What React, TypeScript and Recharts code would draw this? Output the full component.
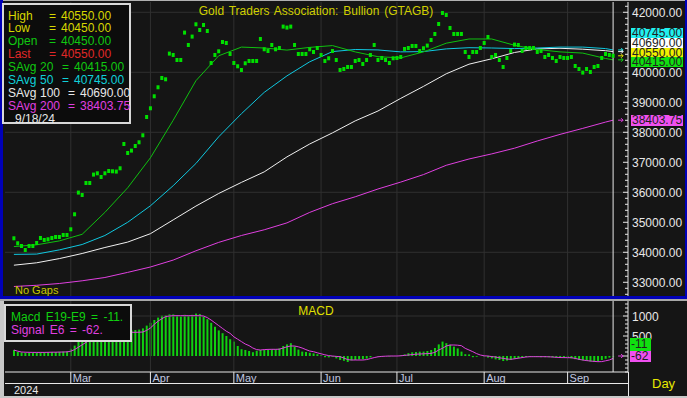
import React from 'react';
import { ComposedChart, Line, Bar, XAxis, YAxis, ReferenceLine, ReferenceDot } from 'recharts';

const FONT = '"Liberation Sans", Arial, sans-serif';

// daily closes, 2/9/24 .. 9/18/24 (weekdays)
const closes = [
  34467, 34300, 34210, 34077, 34210, 34210, 34310, 34477, 34410, 34433,
  34477, 34510, 34510, 34577, 34577, 34767, 35267, 35990, 35910, 36310,
  36310, 36590, 36633, 36510, 36633, 36710, 36700, 36690, 36800, 37610,
  37310, 37390, 37543, 37667, 37900, 38510, 38800, 39200, 39500, 39810,
  39767, 40623, 40577, 40410, 40410, 41323, 40910, 41190, 41600, 41410,
  41577, 41377, 40310, 40577, 40700, 41010, 40977, 40610, 40310, 40200,
  40077, 40300, 40377, 40377, 40377, 41110, 40767, 40710, 40910, 40767,
  40810, 41523, 41490, 41523, 40910, 40610, 40610, 40610, 40767, 40677,
  40810, 40577, 40377, 40467, 40710, 40410, 40077, 40110, 40177, 40177,
  40377, 40410, 40277, 40410, 40577, 40910, 40410, 40477, 40410, 40310,
  40467, 40477, 40510, 40777, 40810, 40877, 40877, 40710, 40800, 40890,
  41077, 41277, 41610, 41977, 41910, 41477, 41277, 41277, 41277, 40677,
  40510, 40677, 40677, 40810, 40977, 41177, 40510, 40577, 40410, 40177,
  40477, 40710, 40923, 40910, 40710, 40810, 40810, 40810, 40677, 40710,
  40510, 40577, 40477, 40377, 40510, 40477, 40477, 40510, 40210, 40110,
  39990, 40110, 40010, 40177, 40210, 40477, 40610, 40577, 40550,
];

// moving averages read at these day indices
const maKnots = [0, 6, 12, 18, 24, 30, 36, 42, 48, 54, 60, 66, 72, 78, 84, 90, 96, 102, 108, 114, 120, 126, 132, 138, 144, 150, 156, 158];
const sAvg20 = [34190, 34250, 34380, 34600, 35330, 36150, 37150, 38400, 39720, 40550, 40840, 40810, 40740, 40830, 40890, 40680, 40520, 40480, 40680, 40970, 41110, 41110, 40900, 40760, 40680, 40640, 40460, 40415];
const sAvg50 = [33930, 33940, 34080, 34260, 34560, 35000, 35550, 36220, 36960, 37850, 38620, 39330, 39880, 40350, 40690, 40760, 40745, 40680, 40690, 40780, 40820, 40810, 40790, 40810, 40840, 40840, 40790, 40745];
const sAvg100 = [33570, 33650, 33790, 33960, 34160, 34340, 34620, 35080, 35540, 35960, 36330, 36680, 37180, 37610, 37980, 38380, 38710, 39130, 39530, 39950, 40270, 40450, 40660, 40780, 40800, 40770, 40720, 40690];
const sAvg200 = [32860, 32900, 32960, 33050, 33160, 33330, 33510, 33740, 34050, 34330, 34560, 34750, 34980, 35330, 35620, 35850, 36110, 36340, 36590, 36900, 37110, 37280, 37470, 37710, 37930, 38130, 38340, 38403.75];

const macdE19E9 = [
  150, 100, 90, 80, 80, 80, 85, 95, 95, 95,
  100, 100, 105, 110, 115, 180, 260, 380, 450, 520,
  560, 600, 620, 620, 620, 620, 610, 600, 590, 640,
  640, 640, 650, 660, 690, 760, 830, 900, 960, 1010,
  1020, 1040, 1040, 1020, 990, 1030, 1020, 1030, 1060, 1050,
  990, 920, 830, 730, 640, 570, 500, 420, 360, 250,
  170, 150, 125, 95, 130, 150, 150, 150, 165, 170,
  190, 250, 290, 320, 240, 160, 110, 100, 80, 65,
  45, 25, -30, -35, -20, -60, -100, -120, -150, -110,
  -100, -85, -80, -65, -35, 0, -10, -15, -5, -15,
  -5, 0, 20, 40, 70, 92, 100, 108, 110, 125,
  150, 200, 290, 360, 320, 280, 235, 190, 110, 45,
  40, -30, -20, 0, -15, -40, -60, -85, -100, -125,
  -115, -100, -75, -60, -40, -25, -25, -20, -25, -30,
  -30, -30, -35, -40, -40, -45, -50, -60, -80, -100,
  -110, -125, -140, -145, -130, -100, -70, -40, -11,
];
const signalE6 = [
  150, 120, 100, 95, 92, 90, 90, 90, 90, 92,
  95, 95, 98, 100, 103, 120, 160, 220, 280, 340,
  390, 440, 480, 520, 550, 570, 580, 585, 588, 592,
  592, 592, 592, 595, 600, 640, 700, 790, 870, 930,
  985, 1000, 1008, 1008, 1008, 1008, 1008, 1008, 1008, 1008,
  1000, 960, 900, 830, 760, 690, 620, 567, 480, 420,
  360, 300, 260, 200, 160, 150, 160, 165, 167, 167,
  170, 200, 230, 250, 250, 230, 200, 160, 125, 108,
  80, 55, 30, 10, 0, -10, -17, -50, -90, -100,
  -100, -100, -100, -90, -65, -40, -20, -10, -5, 0,
  0, 0, 5, 15, 25, 35, 45, 50, 55, 60,
  65, 92, 150, 192, 250, 275, 275, 270, 258, 192,
  150, 108, 60, 25, 5, 0, -15, -25, -45, -58,
  -75, -83, -70, -55, -40, -25, -17, -17, -17, -17,
  -17, -20, -25, -33, -38, -40, -42, -42, -60, -83,
  -100, -115, -125, -135, -142, -140, -120, -100, -62,
];

const monthStarts = [15, 36, 58, 81, 101, 124, 146];
const monthNames = ['Mar', 'Apr', 'May', 'Jun', 'Jul', 'Aug', 'Sep'];
const priceGrid = [34000, 36000, 38000, 40000, 42000];
// 41000 sits under the last-value tags, so it is not labelled
const priceLabels = [33000, 34000, 35000, 36000, 37000, 38000, 39000, 40000, 42000];
const macdGrid = [1000];
const macdLabels = [500, 1000];

const readout = [
  { name: 'High', value: '40550.00', color: '#d8d800' },
  { name: 'Low', value: '40450.00', color: '#d8d800' },
  { name: 'Open', value: '40450.00', color: '#10c810' },
  { name: 'Last', value: '40550.00', color: '#e02828' },
  { name: 'SAvg', period: '20', value: '40415.00', color: '#10c810' },
  { name: 'SAvg', period: '50', value: '40745.00', color: '#10d0d8' },
  { name: 'SAvg', period: '100', value: '40690.00', color: '#e8e8e8' },
  { name: 'SAvg', period: '200', value: '38403.75', color: '#e040e0' },
];
const lastDate = '9/18/24';
const lastMacd = -11;
const lastSignal = -62;

const priceTicks = Array.from({ length: 49 }, (_, k) => 32600 + k * 200);
const macdTicks = Array.from({ length: 18 }, (_, k) => -400 + k * 100);

const rows = closes.map((close, i) => {
  const k = maKnots.indexOf(i);
  return {
    i,
    close,
    s20: k >= 0 ? sAvg20[k] : null,
    s50: k >= 0 ? sAvg50[k] : null,
    s100: k >= 0 ? sAvg100[k] : null,
    s200: k >= 0 ? sAvg200[k] : null,
    macd: macdE19E9[i],
    signal: signalE6[i],
  };
});

const lastIdx = closes.length - 1;

const Square = (p: any) => {
  if (p.cy == null) return <g key={p.index} />;
  return <rect key={p.index} x={p.cx - 1.5} y={p.cy - 2} width={3} height={4} fill="#00e000" />;
};

const Arrow = (color: string) => (p: any) => (
  <path
    d={`M${p.cx + 5},${p.cy} H${p.cx + 10} M${p.cx + 8},${p.cy - 2} L${p.cx + 10},${p.cy} L${p.cx + 8},${p.cy + 2}`}
    stroke={color}
    fill="none"
  />
);

const PriceTick = (p: any) => {
  const v = p.payload.value;
  const major = v % 1000 === 0;
  return (
    <g>
      <line x1={p.x - (major ? 5 : 3)} x2={p.x} y1={p.y} y2={p.y} stroke="#e8e8e8" />
      {priceLabels.includes(v) && (
        <text x={p.x + 4} y={p.y + 4.5} fill="#e8e8e8" fontSize={12} fontFamily={FONT}>
          {v}.00
        </text>
      )}
    </g>
  );
};

const MacdTick = (p: any) => {
  const v = p.payload.value;
  const major = v % 500 === 0;
  return (
    <g>
      <line x1={p.x - (major ? 5 : 3)} x2={p.x} y1={p.y} y2={p.y} stroke="#e8e8e8" />
      {macdLabels.includes(v) && (
        <text x={p.x + 4} y={p.y + 4.5} fill="#e8e8e8" fontSize={12} fontFamily={FONT}>
          {v}
        </text>
      )}
    </g>
  );
};

const MonthTick = (p: any) => {
  const k = monthStarts.indexOf(p.payload.value);
  return (
    <g>
      <line x1={p.x} x2={p.x} y1={p.y} y2={p.y + 11} stroke="#e8e8e8" />
      <text x={p.x + 2} y={p.y + 10} fill="#c0c8e0" fontSize={11} fontFamily={FONT}>
        {monthNames[k]}
      </text>
    </g>
  );
};

const abs = (s: React.CSSProperties): React.CSSProperties => ({ position: 'absolute', ...s });

const App = () => {
  const pad = { left: 7, right: 13 };
  return (
    <div style={{ position: 'relative', width: 687, height: 398, background: '#151515', overflow: 'hidden', fontFamily: FONT }}>
      <style>{'body{margin:0}'}</style>

      <div style={abs({ left: 0, top: 0 })}>
        <ComposedChart width={687} height={296} data={rows} margin={{ top: 2, right: 0, bottom: 0, left: 5 }}>
          <XAxis dataKey="i" type="category" scale="band" hide padding={pad} />
          <YAxis
            orientation="right"
            width={59}
            type="number"
            domain={[32543, 42343]}
            allowDataOverflow
            ticks={priceTicks}
            interval={0}
            tickSize={0}
            tickMargin={0}
            tickLine={false}
            tick={<PriceTick />}
            axisLine={{ stroke: '#e8e8e8' }}
          />
          {priceGrid.map((v) => (
            <ReferenceLine key={'h' + v} y={v} stroke="#303030" />
          ))}
          {monthStarts.map((m) => (
            <ReferenceLine key={'v' + m} x={m} stroke="#303030" />
          ))}
          <Line dataKey="s200" stroke="#e040e0" dot={false} connectNulls isAnimationActive={false} />
          <Line dataKey="s100" stroke="#f0f0f0" dot={false} connectNulls isAnimationActive={false} />
          <Line dataKey="s50" stroke="#10c8e0" dot={false} connectNulls isAnimationActive={false} />
          <Line dataKey="s20" stroke="#10c010" dot={false} connectNulls isAnimationActive={false} />
          <Line dataKey="close" stroke="none" dot={Square} activeDot={false} isAnimationActive={false} />
          <ReferenceLine x={lastIdx} stroke="#e8e8e8" />
          <ReferenceDot x={lastIdx} y={40745} shape={Arrow('#10e0e0')} />
          <ReferenceDot x={lastIdx} y={40690} shape={Arrow('#f0f0f0')} />
          <ReferenceDot x={lastIdx} y={40550} shape={Arrow('#e0e000')} />
          <ReferenceDot x={lastIdx} y={40415} shape={Arrow('#10d010')} />
          <ReferenceDot x={lastIdx} y={38403.75} shape={Arrow('#e040e0')} />
        </ComposedChart>
      </div>

      <div style={abs({ left: 0, top: 300 })}>
        <ComposedChart width={687} height={83} data={rows} margin={{ top: 1, right: 0, bottom: 0, left: 5 }}>
          <XAxis
            dataKey="i"
            type="category"
            scale="band"
            padding={pad}
            height={11}
            ticks={monthStarts}
            interval={0}
            tickSize={0}
            tickMargin={0}
            tickLine={false}
            tick={<MonthTick />}
            axisLine={{ stroke: '#e8e8e8' }}
          />
          <YAxis
            orientation="right"
            width={59}
            type="number"
            domain={[-400, 1375]}
            allowDataOverflow
            ticks={macdTicks}
            interval={0}
            tickSize={0}
            tickMargin={0}
            tickLine={false}
            tick={<MacdTick />}
            axisLine={{ stroke: '#e8e8e8' }}
          />
          {macdGrid.map((v) => (
            <ReferenceLine key={'h' + v} y={v} stroke="#303030" />
          ))}
          {monthStarts.map((m) => (
            <ReferenceLine key={'v' + m} x={m} stroke="#303030" />
          ))}
          <Bar dataKey="macd" fill="#10d010" barSize={2} isAnimationActive={false} />
          <Line dataKey="signal" stroke="#e040e0" dot={false} isAnimationActive={false} />
          <ReferenceLine x={lastIdx} stroke="#e8e8e8" />
          <ReferenceDot x={lastIdx} y={0} shape={Arrow('#e040e0')} />
        </ComposedChart>
      </div>

      {/* frame */}
      <div style={abs({ left: 0, top: 0, width: 687, height: 1, background: '#b0b0b0' })} />
      <div style={abs({ left: 0, top: 0, width: 3, height: 296, background: '#0000b8' })} />
      <div style={abs({ left: 685, top: 0, width: 2, height: 296, background: '#0000b8' })} />
      <div style={abs({ left: 0, top: 296, width: 687, height: 3, background: '#0000b8' })} />
      <div style={abs({ left: 0, top: 299, width: 687, height: 2, background: '#a8a8a8' })} />
      <div style={abs({ left: 0, top: 301, width: 4, height: 97, background: '#c8c8c8' })} />
      <div style={abs({ left: 628, top: 372, width: 1, height: 26, background: '#e8e8e8' })} />
      <div style={abs({ left: 5, top: 383, width: 623, height: 1, background: '#e8e8e8' })} />
      <div style={abs({ left: 0, top: 396, width: 687, height: 2, background: '#c8c8c8' })} />

      {/* titles */}
      <div style={abs({ left: 0, width: 632, top: 4, textAlign: 'center', color: '#d0d000', fontSize: 12, wordSpacing: 1.5, whiteSpace: 'pre' })}>
        Gold Traders Association: Bullion (GTAGB)
      </div>
      <div style={abs({ left: 15, top: 284, color: '#c8c800', fontSize: 11 })}>No Gaps</div>
      <div style={abs({ left: 0, width: 632, top: 304, textAlign: 'center', color: '#e0e000', fontSize: 12 })}>MACD</div>
      <div style={abs({ left: 14, top: 384, color: '#e8e8e8', fontSize: 11 })}>2024</div>
      <div style={abs({ left: 652, top: 376, color: '#e8e800', fontSize: 13 })}>Day</div>

      {/* readout box */}
      <div style={abs({ left: 2, top: 3, width: 125, height: 117, border: '2px solid #d8d8d8', background: '#0c0c0c', fontSize: 12 })}>
        {readout.map((r, k) => {
          const eq = r.period ? (r.period.length > 2 ? 64 : 58) : 45;
          return (
            <div key={k} style={abs({ left: 0, top: 4.5 + k * 12.9, height: 13, lineHeight: '13px', color: r.color, whiteSpace: 'pre' })}>
              <span style={abs({ left: 4 })}>{r.name}</span>
              {r.period && <span style={abs({ left: 36 })}>{r.period}</span>}
              <span style={abs({ left: eq })}>=</span>
              <span style={abs({ left: eq + 12 })}>{r.value}</span>
            </div>
          );
        })}
        <div style={abs({ left: 11, top: 4.5 + 8 * 12.9, lineHeight: '13px', color: '#e8e8e8' })}>{lastDate}</div>
      </div>

      {/* macd readout */}
      <div style={abs({ left: 4, top: 304, width: 124, height: 34, border: '2px solid #d8d8d8', background: '#0c0c0c', fontSize: 12, wordSpacing: 2, whiteSpace: 'pre' })}>
        <div style={abs({ left: 5, top: 5, lineHeight: '13px', color: '#10d010' })}>Macd E19-E9 = {lastMacd}.</div>
        <div style={abs({ left: 5, top: 17.5, lineHeight: '13px', color: '#e040e0' })}>Signal E6 = {lastSignal}.</div>
      </div>

      {/* last-value tags */}
      {[
        { t: '40745.00', bg: '#20f0f0' },
        { t: '40690.00', bg: '#ffffff' },
        { t: '40550.00', bg: '#f0f000' },
        { t: '40415.00', bg: '#10e010' },
      ].map((g, k) => (
        <div key={g.t} style={abs({ left: 631, top: 28 + k * 9.8, width: 51, height: 9.8, background: g.bg, color: '#202020', fontSize: 12, lineHeight: '10px', paddingLeft: 1 })}>
          {g.t}
        </div>
      ))}
      <div style={abs({ left: 631, top: 115, width: 51, height: 10.5, background: '#f050f0', color: '#202020', fontSize: 12, lineHeight: '11px', paddingLeft: 1 })}>
        38403.75
      </div>
      <div style={abs({ left: 630, top: 338, width: 20, height: 13, background: '#10e010', color: '#202020', fontSize: 12, lineHeight: '13px', paddingLeft: 1 })}>
        {lastMacd}
      </div>
      <div style={abs({ left: 630, top: 351, width: 20, height: 11, background: '#f050f0', color: '#202020', fontSize: 12, lineHeight: '11px', paddingLeft: 1 })}>
        {lastSignal}
      </div>
    </div>
  );
};

export default App;
